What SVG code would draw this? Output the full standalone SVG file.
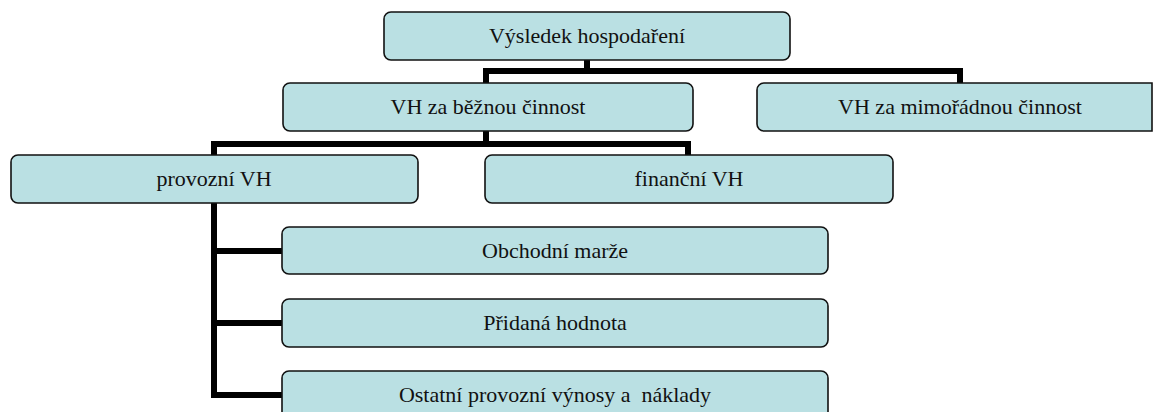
<svg xmlns="http://www.w3.org/2000/svg" width="1153" height="412" viewBox="0 0 1153 412">
<style>
.box{fill:#BAE0E3;stroke:#111;stroke-width:1.6}
.lbl{font-family:"Liberation Serif","Times New Roman",serif;font-size:22px;fill:#111;text-anchor:middle}
.con{fill:none;stroke:#000;stroke-width:6;stroke-linejoin:miter;stroke-linecap:butt}
</style>
<rect width="1153" height="412" fill="#fff"/>
<g id="connectors">
<path class="con" d="M587 60 V71"/>
<path class="con" d="M486 83 V71 H960 V83"/>
<path class="con" d="M486 131 V144"/>
<path class="con" d="M214 155 V144 H688 V155"/>
<path class="con" d="M214 203 V395 H282"/>
<path class="con" d="M214 251 H282"/>
<path class="con" d="M214 323 H282"/>
</g>
<g id="n-vysledek">
<rect class="box" x="384" y="12" width="406" height="48" rx="7"/>
<text class="lbl" x="587" y="43">Výsledek hospodaření</text>
</g>
<g id="n-bezna">
<rect class="box" x="283" y="83" width="410" height="48" rx="7"/>
<text class="lbl" x="488" y="114">VH za běžnou činnost</text>
</g>
<g id="n-mimoradna">
<path class="box" d="M764 83 H1152 V131 H764 A7 7 0 0 1 757 124 V90 A7 7 0 0 1 764 83 Z"/>
<text class="lbl" x="960" y="114">VH za mimořádnou činnost</text>
</g>
<g id="n-provozni">
<rect class="box" x="11" y="155" width="407" height="48" rx="7"/>
<text class="lbl" x="214" y="186">provozní VH</text>
</g>
<g id="n-financni">
<rect class="box" x="485" y="155" width="408" height="48" rx="7"/>
<text class="lbl" x="689" y="186">finanční VH</text>
</g>
<g id="n-obchodni">
<rect class="box" x="282" y="227" width="546" height="47" rx="7"/>
<text class="lbl" x="555" y="258">Obchodní marže</text>
</g>
<g id="n-pridana">
<rect class="box" x="282" y="299" width="546" height="48" rx="7"/>
<text class="lbl" x="555" y="330">Přidaná hodnota</text>
</g>
<g id="n-ostatni">
<rect class="box" x="282" y="371" width="546" height="48" rx="7"/>
<text class="lbl" x="555" y="402">Ostatní provozní výnosy a&#160; náklady</text>
</g>
</svg>
